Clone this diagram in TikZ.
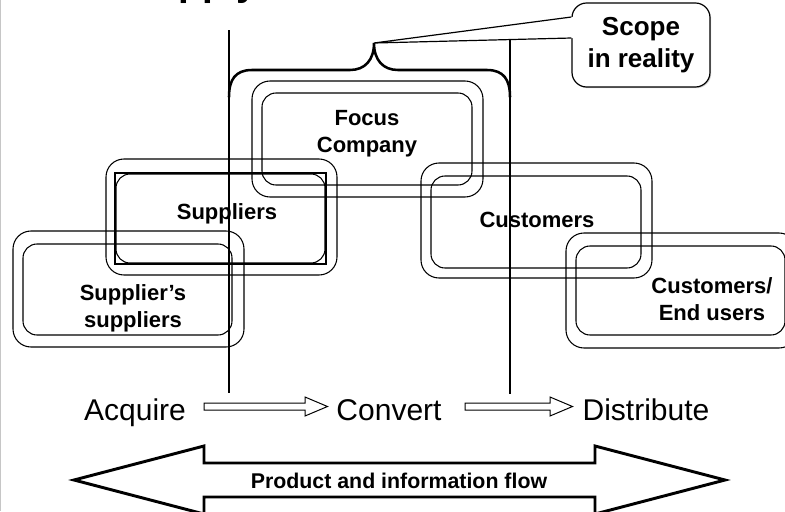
\documentclass[tikz,border=0pt]{standalone}
\usepackage{fontspec}
\setmainfont{Liberation Sans}
\usetikzlibrary{calc}
\begin{document}
\begin{tikzpicture}[x=0.75pt,y=-0.75pt,
  outerbox/.style={draw, line width=0.8pt, rounded corners=13.5pt},
  innerbox/.style={draw, line width=0.8pt, rounded corners=10.5pt},
  lbl/.style={font=\bfseries\fontsize{16.5}{20.25}\selectfont, align=center, inner sep=0pt},
  stage/.style={font=\fontsize{22.5}{27}\selectfont, inner sep=0pt, anchor=base},
  divider/.style={line width=1.9pt},
  bracestyle/.style={line width=1.9pt, line cap=round},
  calloutbox/.style={rounded corners=11pt, minimum width=103.5pt, minimum height=63pt, inner sep=0pt},
  hollowarrow/.style={line width=0.75pt, line join=miter, to path={
    ($(\tikztostart)+(0,-3.5)$) -- ($(\tikztotarget)+(-22.5,-3.5)$)
    -- ($(\tikztotarget)+(-22.5,-9.5)$) -- (\tikztotarget)
    -- ($(\tikztotarget)+(-22.5,9.5)$) -- ($(\tikztotarget)+(-22.5,3.5)$)
    -- ($(\tikztostart)+(0,3.5)$) -- cycle}},
  flowarrow/.style={line width=2.2pt, line join=miter},
]
\useasboundingbox (0,0) rectangle (785,511);
\clip (0,0) rectangle (785,511);

% thin frame line on the left edge
\draw[gray!45, line width=0.8pt] (0.8,0) -- (0.8,511);

% heading (mostly above the page)
\node[anchor=base west, inner sep=0pt, font=\bfseries\fontsize{29}{35}\selectfont] (title) at (129,-5) {Supply Chain};

% ---- the five stages: double rounded boxes ----
% Focus company
\draw[outerbox] (252,81) rectangle (483,197);
\draw[innerbox] (262,93) rectangle (472,185);
\node[lbl] (focus) at (367,134) {Focus\\Company};

% Suppliers
\draw[outerbox] (106,159) rectangle (337,275);
\draw[line width=0.8pt] (115,173) rectangle (326,264);
\draw[innerbox] (116,174) rectangle (325,263);
\node[lbl] (suppliers) at (227,214) {Suppliers};

% Supplier's suppliers
\draw[outerbox] (13,231) rectangle (244,347);
\draw[innerbox] (23,244) rectangle (232,335);
\node[lbl] (supsup) at (133,308) {Supplier’s\\suppliers};

% Customers
\draw[outerbox] (421,163) rectangle (652,278);
\draw[innerbox] (431,176) rectangle (641,268);
\node[lbl] (customers) at (537,220) {Customers};

% End users
\draw[outerbox] (566,233) rectangle (797,348);
\draw[innerbox] (576,246) rectangle (785,335);
\node[lbl] (endusers) at (712,299) {Customers/\\End users};

% ---- callout ----
\node[calloutbox, fill=gray!35] (calloutshadow) at (642.2,46.2) {};
\node[calloutbox, draw, fill=white, line width=0.9pt,
      font=\bfseries\fontsize{19.5}{24}\selectfont, align=center] (callout) at (641,45) {Scope\\in reality};
\coordinate (bracetip) at (374,43);
\coordinate (ptop) at ($(callout.west)+(0,-28)$);
\coordinate (pbot) at ($(callout.west)+(0,-7)$);
\fill[white] (bracetip) -- (ptop) -- ($(ptop)+(1.6,0)$) -- ($(pbot)+(1.6,0)$) -- (pbot) -- cycle;
\draw[line width=0.9pt, line join=miter] (ptop) -- (bracetip) -- (pbot);

% ---- scope dividers ----
\coordinate (d1t) at (229,30);
\coordinate (d1b) at (229,393);
\coordinate (d2t) at (510,40);
\coordinate (d2b) at (510,394);
\draw[divider] (d1t) -- (d1b);
\draw[divider] (d2t) -- (d2b);

% ---- brace spanning the dividers ----
\draw[bracestyle] (229,97) .. controls (229,80) and (235,70) .. (252,70)
  -- (350,70) .. controls (365,70) and (374,60) .. (bracetip)
  .. controls (374,60) and (383,70) .. (398,70)
  -- (487,70) .. controls (504,70) and (510,80) .. (510,97);

% ---- process stages ----
\node[stage] (acquire) at (135,420) {Acquire};
\node[stage] (convert) at (389,420) {Convert};
\node[stage] (distribute) at (646,420) {Distribute};

\coordinate (a1s) at (204,406.5);
\coordinate (a1e) at (327.5,406.5);
\coordinate (a2s) at (465,406.5);
\coordinate (a2e) at (572.5,406.5);
\draw[hollowarrow] (a1s) to (a1e);
\draw[hollowarrow] (a2s) to (a2e);

% ---- product and information flow ----
\draw[flowarrow] (74,480) -- (204,446) -- (204,463) -- (595,463) -- (595,446)
  -- (725,480) -- (595,514) -- (595,497) -- (204,497) -- (204,514) -- cycle;
\node[anchor=base, inner sep=0pt, font=\bfseries\fontsize{16}{19}\selectfont] (flow) at (399,488) {Product and information flow};
\end{tikzpicture}
\end{document}
